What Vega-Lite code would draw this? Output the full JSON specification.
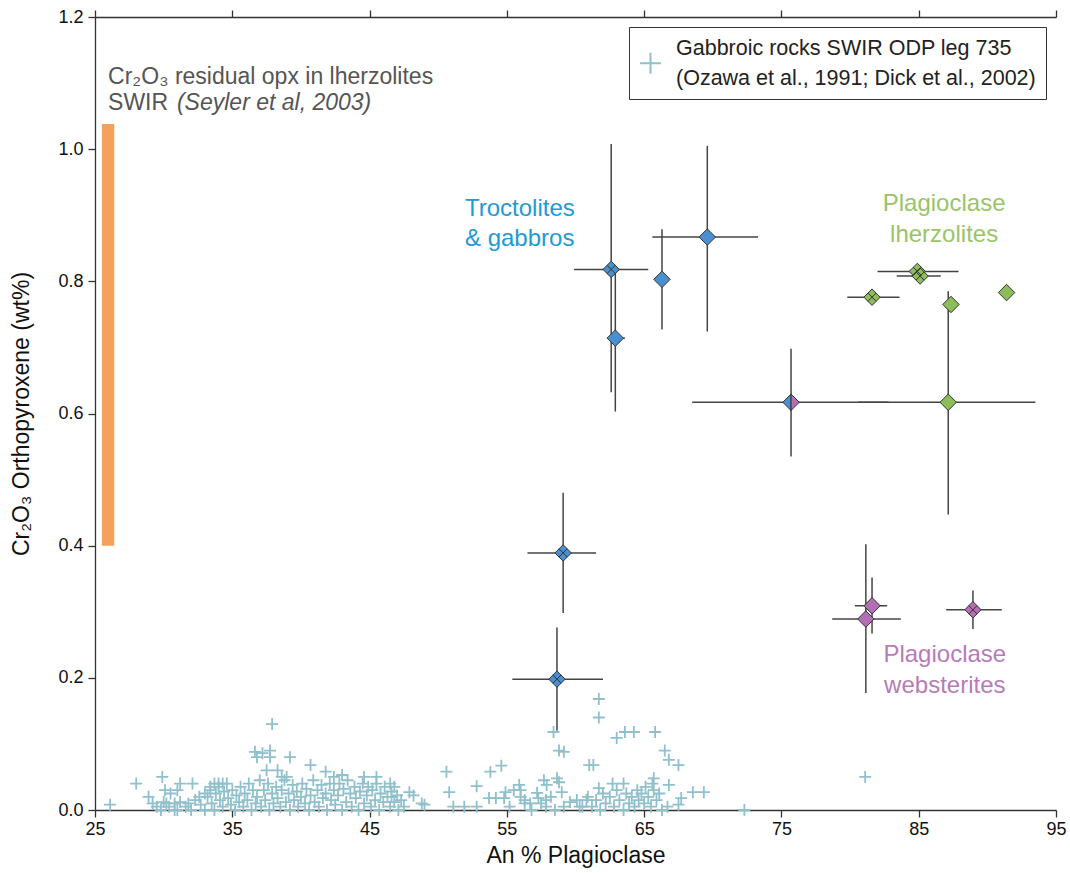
{
  "$schema": "https://vega.github.io/schema/vega-lite/v6.json",
  "width": 961,
  "height": 793,
  "autosize": {"type": "none"},
  "padding": {"left": 95, "top": 17, "right": 14, "bottom": 63},
  "background": "white",
  "config": {
    "view": {"stroke": null},
    "font": "Liberation Sans",
    "style": {"guide-label": {"lineHeight": 30}},
    "axis": {
      "domainColor": "#333", "tickColor": "#333", "domainWidth": 1.3, "tickWidth": 1.3,
      "tickSize": 7, "grid": false, "labelFontSize": 18, "titleFontSize": 23,
      "labelColor": "#111", "titleColor": "#111", "titleFontWeight": "normal",
      "labelFont": "Liberation Sans", "titleFont": "Liberation Sans"
    },
    "legend": {
      "orient": "top-right", "offset": 10, "strokeColor": "#333", "strokeWidth": 1,
      "fillColor": "white", "padding": 10, "labelFontSize": 21.5, "labelColor": "#222",
      "labelLimit": 600, "labelFont": "Liberation Sans"
    }
  },
  "datasets": {
    "bar": [{"x1": 25.5, "x2": 26.4, "y1": 0.4, "y2": 1.038}],
    "pts": [
      {"g": "T", "x": 62.6, "y": 0.818, "xlo": 59.9, "xhi": 65.3, "ylo": 0.632, "yhi": 1.008, "ov": true},
      {"g": "T", "x": 62.9, "y": 0.714, "xlo": 62.3, "xhi": 63.6, "ylo": 0.603, "yhi": 0.814, "ov": false},
      {"g": "T", "x": 66.3, "y": 0.803, "xlo": null, "xhi": null, "ylo": 0.727, "yhi": 0.879, "ov": false},
      {"g": "T", "x": 69.6, "y": 0.867, "xlo": 65.6, "xhi": 73.3, "ylo": 0.724, "yhi": 1.005, "ov": false},
      {"g": "T", "x": 59.1, "y": 0.389, "xlo": 56.5, "xhi": 61.5, "ylo": 0.298, "yhi": 0.48, "ov": true},
      {"g": "T", "x": 58.65, "y": 0.198, "xlo": 55.4, "xhi": 62.0, "ylo": 0.12, "yhi": 0.276, "ov": true},
      {"g": "S", "x": 75.7, "y": 0.617, "xlo": 68.5, "xhi": 82.8, "ylo": 0.535, "yhi": 0.698, "ov": false},
      {"g": "L", "x": 84.9, "y": 0.815, "xlo": 82.0, "xhi": 87.9, "ylo": null, "yhi": null, "ov": true},
      {"g": "L", "x": 85.1, "y": 0.808, "xlo": 83.4, "xhi": 86.6, "ylo": null, "yhi": null, "ov": true},
      {"g": "L", "x": 81.6, "y": 0.776, "xlo": 79.8, "xhi": 83.6, "ylo": null, "yhi": null, "ov": true},
      {"g": "L", "x": 87.15, "y": 0.617, "xlo": 80.6, "xhi": 93.5, "ylo": 0.447, "yhi": 0.785, "ov": false},
      {"g": "L", "x": 87.35, "y": 0.765, "xlo": null, "xhi": null, "ylo": null, "yhi": null, "ov": false},
      {"g": "L", "x": 91.4, "y": 0.783, "xlo": null, "xhi": null, "ylo": null, "yhi": null, "ov": false},
      {"g": "W", "x": 81.6, "y": 0.309, "xlo": 80.35, "xhi": 82.7, "ylo": 0.267, "yhi": 0.352, "ov": false},
      {"g": "W", "x": 81.15, "y": 0.289, "xlo": 78.7, "xhi": 83.7, "ylo": 0.177, "yhi": 0.402, "ov": false},
      {"g": "W", "x": 88.95, "y": 0.303, "xlo": 87.0, "xhi": 91.05, "ylo": 0.274, "yhi": 0.332, "ov": true}
    ],
    "notes": [
      {"t": "Cr₂O₃ residual opx in lherzolites", "x": 25.95, "y": 1.109, "k": "grey"},
      {"t": "SWIR", "x": 25.95, "y": 1.07, "k": "grey"},
      {"t": "(Seyler et al, 2003)", "x": 30.97, "y": 1.07, "k": "greyit"},
      {"t": "Troctolites", "x": 51.95, "y": 0.909, "k": "T"},
      {"t": "& gabbros", "x": 51.95, "y": 0.864, "k": "T"},
      {"t": "Plagioclase", "x": 86.85, "y": 0.917, "k": "L"},
      {"t": "lherzolites", "x": 86.85, "y": 0.87, "k": "L"},
      {"t": "Plagioclase", "x": 86.9, "y": 0.235, "k": "W"},
      {"t": "websterites", "x": 86.9, "y": 0.188, "k": "W"}
    ],
    "gab": [
      {"x":26.1,"y":0.008,"s":"G"},{"x":28.0,"y":0.04,"s":"G"},{"x":28.9,"y":0.02,"s":"G"},{"x":29.2,"y":0.01,"s":"G"},{"x":29.9,"y":0.05,"s":"G"},{"x":30.1,"y":0.03,"s":"G"},{"x":30.5,"y":0.025,"s":"G"},{"x":31.0,"y":0.03,"s":"G"},{"x":31.2,"y":0.04,"s":"G"},{"x":32.1,"y":0.04,"s":"G"},{"x":30.2,"y":0.01,"s":"G"},{"x":30.8,"y":0.01,"s":"G"},{"x":31.0,"y":0.0,"s":"G"},{"x":31.8,"y":0.01,"s":"G"},{"x":32.6,"y":0.02,"s":"G"},{"x":33.0,"y":0.025,"s":"G"},{"x":33.4,"y":0.035,"s":"G"},{"x":33.7,"y":0.04,"s":"G"},{"x":34.0,"y":0.04,"s":"G"},{"x":34.3,"y":0.04,"s":"G"},
      {"x":36.65,"y":0.088,"s":"G"},{"x":36.8,"y":0.08,"s":"G"},{"x":37.2,"y":0.086,"s":"G"},{"x":37.9,"y":0.13,"s":"G"},{"x":37.75,"y":0.09,"s":"G"},{"x":37.75,"y":0.08,"s":"G"},{"x":39.2,"y":0.08,"s":"G"},{"x":40.7,"y":0.068,"s":"G"},{"x":37.5,"y":0.06,"s":"G"},{"x":38.3,"y":0.06,"s":"G"},{"x":38.6,"y":0.05,"s":"G"},{"x":38.96,"y":0.05,"s":"G"},{"x":41.8,"y":0.058,"s":"G"},{"x":42.4,"y":0.05,"s":"G"},{"x":43.0,"y":0.053,"s":"G"},{"x":44.6,"y":0.05,"s":"G"},{"x":45.5,"y":0.05,"s":"G"},{"x":46.5,"y":0.04,"s":"G"},{"x":46.8,"y":0.035,"s":"G"},{"x":47.9,"y":0.027,"s":"G"},{"x":48.2,"y":0.022,"s":"G"},{"x":48.8,"y":0.01,"s":"G"},{"x":46.6,"y":0.02,"s":"G"},
      {"x":49.0,"y":0.008,"s":"G"},{"x":50.6,"y":0.058,"s":"G"},{"x":50.8,"y":0.027,"s":"G"},{"x":51.1,"y":0.005,"s":"G"},{"x":51.9,"y":0.005,"s":"G"},{"x":52.8,"y":0.005,"s":"G"},{"x":52.8,"y":0.036,"s":"G"},{"x":53.8,"y":0.058,"s":"G"},{"x":54.6,"y":0.067,"s":"G"},{"x":53.7,"y":0.018,"s":"G"},{"x":54.2,"y":0.018,"s":"G"},{"x":54.8,"y":0.018,"s":"G"},{"x":54.9,"y":0.027,"s":"G"},{"x":55.5,"y":0.03,"s":"G"},{"x":55.9,"y":0.038,"s":"G"},{"x":56.0,"y":0.03,"s":"G"},{"x":56.0,"y":0.02,"s":"G"},{"x":56.3,"y":0.015,"s":"G"},{"x":56.7,"y":0.01,"s":"G"},{"x":57.2,"y":0.026,"s":"G"},{"x":57.3,"y":0.018,"s":"G"},{"x":57.85,"y":0.015,"s":"G"},{"x":57.7,"y":0.045,"s":"G"},{"x":57.9,"y":0.038,"s":"G"},{"x":57.85,"y":0.005,"s":"G"},{"x":58.4,"y":0.118,"s":"G"},{"x":58.8,"y":0.09,"s":"G"},{"x":59.15,"y":0.088,"s":"G"},{"x":58.65,"y":0.048,"s":"G"},{"x":58.8,"y":0.042,"s":"G"},{"x":59.0,"y":0.027,"s":"G"},{"x":59.15,"y":0.005,"s":"G"},{"x":60.1,"y":0.015,"s":"G"},{"x":60.5,"y":0.005,"s":"G"},{"x":60.8,"y":0.015,"s":"G"},{"x":61.0,"y":0.068,"s":"G"},
      {"x":61.7,"y":0.168,"s":"G"},{"x":61.7,"y":0.14,"s":"G"},{"x":61.3,"y":0.068,"s":"G"},{"x":63.0,"y":0.109,"s":"G"},{"x":63.6,"y":0.118,"s":"G"},{"x":64.25,"y":0.118,"s":"G"},{"x":65.8,"y":0.118,"s":"G"},{"x":66.5,"y":0.09,"s":"G"},{"x":66.8,"y":0.076,"s":"G"},{"x":67.5,"y":0.068,"s":"G"},{"x":65.7,"y":0.048,"s":"G"},{"x":65.6,"y":0.04,"s":"G"},{"x":66.8,"y":0.038,"s":"G"},{"x":68.55,"y":0.027,"s":"G"},{"x":69.35,"y":0.027,"s":"G"},{"x":67.7,"y":0.018,"s":"G"},{"x":67.5,"y":0.008,"s":"G"},{"x":66.7,"y":0.005,"s":"G"},{"x":72.3,"y":0.0,"s":"G"},{"x":61.7,"y":0.033,"s":"G"},{"x":62.7,"y":0.04,"s":"G"},{"x":63.5,"y":0.04,"s":"G"},{"x":81.1,"y":0.05,"s":"G"},
      {"x":29.5,"y":0.005,"s":"G"},{"x":29.8,"y":0.0,"s":"G"},{"x":30.0,"y":0.012,"s":"G"},{"x":30.4,"y":0.005,"s":"G"},{"x":30.8,"y":0.0,"s":"G"},{"x":31.2,"y":0.012,"s":"G"},{"x":31.6,"y":0.005,"s":"G"},{"x":32.0,"y":0.0,"s":"G"},{"x":32.3,"y":0.015,"s":"G"},{"x":32.7,"y":0.008,"s":"G"},{"x":33.0,"y":0.0,"s":"G"},
      {"x":33.2,"y":0.02,"s":"G"},{"x":33.4,"y":0.03,"s":"G"},{"x":33.5,"y":0.01,"s":"G"},{"x":33.7,"y":0.0,"s":"G"},{"x":33.8,"y":0.025,"s":"G"},{"x":34.0,"y":0.035,"s":"G"},{"x":34.1,"y":0.015,"s":"G"},{"x":34.3,"y":0.005,"s":"G"},{"x":34.4,"y":0.028,"s":"G"},{"x":34.6,"y":0.04,"s":"G"},{"x":34.7,"y":0.018,"s":"G"},{"x":34.9,"y":0.008,"s":"G"},{"x":35.0,"y":0.03,"s":"G"},{"x":35.2,"y":0.0,"s":"G"},{"x":35.3,"y":0.022,"s":"G"},{"x":35.5,"y":0.012,"s":"G"},{"x":35.6,"y":0.035,"s":"G"},{"x":35.8,"y":0.005,"s":"G"},{"x":35.9,"y":0.025,"s":"G"},{"x":36.1,"y":0.015,"s":"G"},{"x":36.2,"y":0.04,"s":"G"},{"x":36.4,"y":0.0,"s":"G"},{"x":36.5,"y":0.03,"s":"G"},{"x":36.7,"y":0.01,"s":"G"},{"x":36.8,"y":0.02,"s":"G"},{"x":37.0,"y":0.045,"s":"G"},{"x":37.1,"y":0.005,"s":"G"},{"x":37.3,"y":0.03,"s":"G"},{"x":37.4,"y":0.015,"s":"G"},{"x":37.6,"y":0.04,"s":"G"},{"x":37.7,"y":0.0,"s":"G"},{"x":37.9,"y":0.025,"s":"G"},{"x":38.0,"y":0.01,"s":"G"},
      {"x":38.2,"y":0.035,"s":"G"},{"x":38.3,"y":0.018,"s":"G"},{"x":38.5,"y":0.005,"s":"G"},{"x":38.6,"y":0.03,"s":"G"},{"x":38.8,"y":0.045,"s":"G"},{"x":38.9,"y":0.012,"s":"G"},{"x":39.1,"y":0.025,"s":"G"},{"x":39.2,"y":0.0,"s":"G"},{"x":39.4,"y":0.038,"s":"G"},{"x":39.5,"y":0.015,"s":"G"},{"x":39.7,"y":0.028,"s":"G"},{"x":39.8,"y":0.005,"s":"G"},{"x":40.0,"y":0.02,"s":"G"},{"x":40.1,"y":0.04,"s":"G"},{"x":40.3,"y":0.01,"s":"G"},{"x":40.4,"y":0.032,"s":"G"},{"x":40.6,"y":0.0,"s":"G"},{"x":40.7,"y":0.022,"s":"G"},{"x":40.9,"y":0.045,"s":"G"},{"x":41.0,"y":0.012,"s":"G"},{"x":41.2,"y":0.03,"s":"G"},{"x":41.3,"y":0.005,"s":"G"},{"x":41.5,"y":0.038,"s":"G"},{"x":41.6,"y":0.018,"s":"G"},{"x":41.8,"y":0.025,"s":"G"},{"x":41.9,"y":0.0,"s":"G"},{"x":42.1,"y":0.04,"s":"G"},{"x":42.2,"y":0.015,"s":"G"},{"x":42.4,"y":0.03,"s":"G"},{"x":42.5,"y":0.008,"s":"G"},{"x":42.7,"y":0.022,"s":"G"},{"x":42.8,"y":0.04,"s":"G"},{"x":43.0,"y":0.0,"s":"G"},{"x":43.1,"y":0.032,"s":"G"},{"x":43.3,"y":0.012,"s":"G"},{"x":43.4,"y":0.045,"s":"G"},{"x":43.6,"y":0.025,"s":"G"},{"x":43.7,"y":0.005,"s":"G"},{"x":43.9,"y":0.035,"s":"G"},{"x":44.0,"y":0.018,"s":"G"},{"x":44.2,"y":0.0,"s":"G"},{"x":44.3,"y":0.028,"s":"G"},{"x":44.5,"y":0.04,"s":"G"},{"x":44.6,"y":0.01,"s":"G"},{"x":44.8,"y":0.022,"s":"G"},{"x":44.9,"y":0.035,"s":"G"},{"x":45.1,"y":0.005,"s":"G"},{"x":45.2,"y":0.03,"s":"G"},{"x":45.4,"y":0.015,"s":"G"},{"x":45.5,"y":0.04,"s":"G"},{"x":45.7,"y":0.0,"s":"G"},{"x":45.8,"y":0.025,"s":"G"},{"x":46.0,"y":0.012,"s":"G"},{"x":46.1,"y":0.035,"s":"G"},{"x":46.3,"y":0.02,"s":"G"},{"x":46.5,"y":0.005,"s":"G"},{"x":46.6,"y":0.028,"s":"G"},{"x":46.8,"y":0.012,"s":"G"},{"x":47.0,"y":0.022,"s":"G"},{"x":47.1,"y":0.0,"s":"G"},{"x":47.3,"y":0.015,"s":"G"},{"x":47.5,"y":0.005,"s":"G"},
      {"x":60.9,"y":0.02,"s":"G"},{"x":61.2,"y":0.005,"s":"G"},{"x":61.5,"y":0.015,"s":"G"},{"x":61.8,"y":0.0,"s":"G"},{"x":62.0,"y":0.025,"s":"G"},{"x":62.2,"y":0.01,"s":"G"},{"x":62.5,"y":0.02,"s":"G"},{"x":62.8,"y":0.005,"s":"G"},{"x":63.0,"y":0.03,"s":"G"},{"x":63.2,"y":0.015,"s":"G"},{"x":63.5,"y":0.0,"s":"G"},{"x":63.7,"y":0.025,"s":"G"},{"x":63.9,"y":0.01,"s":"G"},{"x":64.1,"y":0.02,"s":"G"},{"x":64.3,"y":0.005,"s":"G"},{"x":64.5,"y":0.03,"s":"G"},{"x":64.6,"y":0.015,"s":"G"},{"x":64.8,"y":0.025,"s":"G"},{"x":65.0,"y":0.01,"s":"G"},{"x":65.1,"y":0.035,"s":"G"},{"x":65.3,"y":0.02,"s":"G"},{"x":65.5,"y":0.005,"s":"G"},{"x":65.7,"y":0.03,"s":"G"},{"x":65.9,"y":0.015,"s":"G"},{"x":66.1,"y":0.025,"s":"G"},{"x":66.3,"y":0.0,"s":"G"},
      {"x":55.2,"y":0.005,"s":"G"},{"x":56.3,"y":0.01,"s":"G"},{"x":56.8,"y":0.0,"s":"G"},{"x":57.5,"y":0.01,"s":"G"},{"x":58.2,"y":0.02,"s":"G"},{"x":58.5,"y":0.0,"s":"G"},{"x":59.6,"y":0.012,"s":"G"},{"x":60.3,"y":0.005,"s":"G"}
    ]
  },
  "resolve": {"axis": {"x": "independent"}},
  "layer": [
    {
      "data": {"name": "bar"},
      "mark": {"type": "rect", "color": "#f6a15b"},
      "encoding": {
        "x": {"field": "x1", "type": "quantitative", "scale": {"domain": [25, 95], "nice": false, "zero": false},
              "axis": {"orient": "bottom", "values": [25, 35, 45, 55, 65, 75, 85, 95], "title": "An % Plagioclase", "labelPadding": 3, "titlePadding": 6, "labelFlush": false}},
        "x2": {"field": "x2"},
        "y": {"field": "y1", "type": "quantitative", "scale": {"domain": [0, 1.2], "nice": false, "zero": false},
              "axis": {"values": [0, 0.2, 0.4, 0.6, 0.8, 1.0, 1.2], "format": ".1f", "title": "Cr₂O₃ Orthopyroxene (wt%)", "labelPadding": 5, "titlePadding": 24, "labelFlush": false}},
        "y2": {"field": "y2"}
      }
    },
    {
      "data": {"name": "gab"},
      "mark": {"type": "point", "shape": "M-1,0L1,0M0,-1L0,1", "filled": false, "strokeWidth": 1.8, "size": 144, "opacity": 1},
      "encoding": {
        "x": {"field": "x", "type": "quantitative",
              "axis": {"orient": "top", "values": [25, 35, 45, 55, 65, 75, 85, 95], "labels": false, "title": null}},
        "y": {"field": "y", "type": "quantitative"},
        "color": {"field": "s", "type": "nominal",
                  "scale": {"domain": ["G"], "range": ["#8fc0cc"]},
                  "legend": {"title": null, "labelExpr": "['Gabbroic rocks SWIR ODP leg 735', '(Ozawa et al., 1991; Dick et al., 2002)']", "symbolType": "M-1,1.4L1,1.4M0,0.4L0,2.4", "symbolSize": 440, "symbolStrokeWidth": 2, "labelOffset": 14}}
      }
    },
    {
      "data": {"name": "pts"},
      "transform": [{"filter": "isValid(datum.xlo)"}],
      "mark": {"type": "rule", "color": "#444", "strokeWidth": 1.5},
      "encoding": {
        "x": {"field": "xlo", "type": "quantitative", "axis": null},
        "x2": {"field": "xhi"},
        "y": {"field": "y", "type": "quantitative"}
      }
    },
    {
      "data": {"name": "pts"},
      "transform": [{"filter": "isValid(datum.ylo)"}],
      "mark": {"type": "rule", "color": "#444", "strokeWidth": 1.5},
      "encoding": {
        "x": {"field": "x", "type": "quantitative", "axis": null},
        "y": {"field": "ylo", "type": "quantitative"},
        "y2": {"field": "yhi"}
      }
    },
    {
      "data": {"name": "pts"},
      "transform": [{"filter": "datum.g != 'S'"}],
      "mark": {"type": "point", "shape": "diamond", "filled": true, "size": 270, "stroke": "#333", "strokeWidth": 1, "opacity": 1},
      "encoding": {
        "x": {"field": "x", "type": "quantitative", "axis": null},
        "y": {"field": "y", "type": "quantitative"},
        "fill": {"field": "g", "type": "nominal", "scale": {"domain": ["T", "L", "W"], "range": ["#4a8fd0", "#8cbd5a", "#b46fb4"]}, "legend": null}
      }
    },
    {
      "data": {"name": "pts"},
      "transform": [{"filter": "datum.ov"}],
      "mark": {"type": "point", "shape": "M-0.5,-0.5L0.5,0.5M-0.5,0.5L0.5,-0.5", "filled": false, "size": 270, "stroke": "#333", "strokeWidth": 1, "opacity": 1},
      "encoding": {
        "x": {"field": "x", "type": "quantitative", "axis": null},
        "y": {"field": "y", "type": "quantitative"}
      }
    },
    {
      "data": {"name": "pts"},
      "transform": [{"filter": "datum.g == 'S'"}],
      "mark": {"type": "point", "shape": "M-1,0L0,-1L0,1Z", "filled": true, "size": 270, "fill": "#4a8fd0", "stroke": "#333", "strokeWidth": 1, "opacity": 1},
      "encoding": {
        "x": {"field": "x", "type": "quantitative", "axis": null},
        "y": {"field": "y", "type": "quantitative"}
      }
    },
    {
      "data": {"name": "pts"},
      "transform": [{"filter": "datum.g == 'S'"}],
      "mark": {"type": "point", "shape": "M0,-1L1,0L0,1Z", "filled": true, "size": 270, "fill": "#b46fb4", "stroke": "#333", "strokeWidth": 1, "opacity": 1},
      "encoding": {
        "x": {"field": "x", "type": "quantitative", "axis": null},
        "y": {"field": "y", "type": "quantitative"}
      }
    },
    {
      "data": {"name": "notes"},
      "transform": [{"filter": "datum.k == 'grey'"}],
      "mark": {"type": "text", "align": "left", "baseline": "middle", "fontSize": 23, "color": "#555"},
      "encoding": {
        "x": {"field": "x", "type": "quantitative", "axis": null},
        "y": {"field": "y", "type": "quantitative"},
        "text": {"field": "t"}
      }
    },
    {
      "data": {"name": "notes"},
      "transform": [{"filter": "datum.k == 'greyit'"}],
      "mark": {"type": "text", "align": "left", "baseline": "middle", "fontSize": 23, "fontStyle": "italic", "color": "#555"},
      "encoding": {
        "x": {"field": "x", "type": "quantitative", "axis": null},
        "y": {"field": "y", "type": "quantitative"},
        "text": {"field": "t"}
      }
    },
    {
      "data": {"name": "notes"},
      "transform": [{"filter": "datum.k == 'T'"}],
      "mark": {"type": "text", "align": "left", "baseline": "middle", "fontSize": 24, "color": "#1e9ad6"},
      "encoding": {
        "x": {"field": "x", "type": "quantitative", "axis": null},
        "y": {"field": "y", "type": "quantitative"},
        "text": {"field": "t"}
      }
    },
    {
      "data": {"name": "notes"},
      "transform": [{"filter": "datum.k == 'L'"}],
      "mark": {"type": "text", "align": "center", "baseline": "middle", "fontSize": 24, "color": "#9ac467"},
      "encoding": {
        "x": {"field": "x", "type": "quantitative", "axis": null},
        "y": {"field": "y", "type": "quantitative"},
        "text": {"field": "t"}
      }
    },
    {
      "data": {"name": "notes"},
      "transform": [{"filter": "datum.k == 'W'"}],
      "mark": {"type": "text", "align": "center", "baseline": "middle", "fontSize": 24, "color": "#b77bb8"},
      "encoding": {
        "x": {"field": "x", "type": "quantitative", "axis": null},
        "y": {"field": "y", "type": "quantitative"},
        "text": {"field": "t"}
      }
    }
  ]
}
